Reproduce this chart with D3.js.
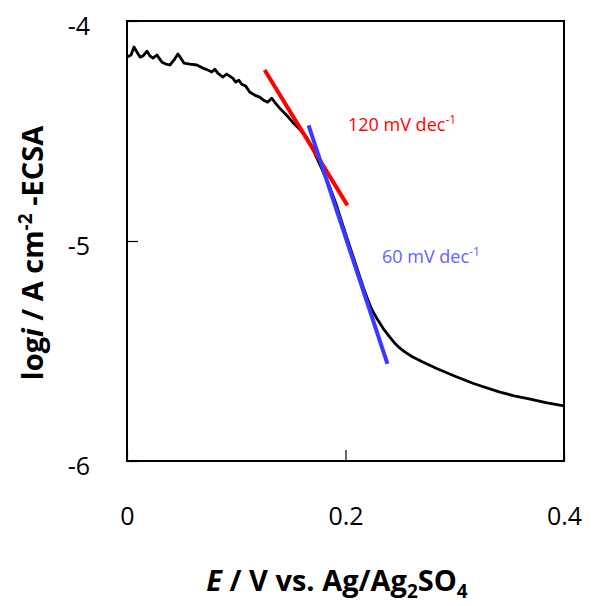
<!DOCTYPE html>
<html>
<head>
<meta charset="utf-8">
<script src="https://cdn.jsdelivr.net/npm/d3@7"></script>
<style>
  html, body { margin: 0; padding: 0; background: #fff; }
  svg { display: block; font-family: "Open Sans", "Noto Sans", sans-serif; }
</style>
</head>
<body>
<div id="chart"></div>
<script>
const WIDTH = 606;
const HEIGHT = 606;
const LEFT = 127, RIGHT = 564, TOP = 21, BOTTOM = 461;

// measured polarisation curve (E in V, log i)
const potentialE = [0.0000, 0.0037, 0.0064, 0.0091, 0.0119, 0.0146, 0.0183, 0.0210, 0.0237, 0.0274,
  0.0320, 0.0356, 0.0393, 0.0429, 0.0466, 0.0493, 0.0521, 0.0575, 0.0639, 0.0694,
  0.0740, 0.0776, 0.0804, 0.0831, 0.0877, 0.0913, 0.0941, 0.0968, 0.0995, 0.1023,
  0.1050, 0.1087, 0.1123, 0.1169, 0.1214, 0.1251, 0.1287, 0.1324, 0.1361, 0.1397,
  0.1461, 0.1516, 0.1580, 0.1644, 0.1689, 0.1735, 0.1790, 0.1854, 0.1918, 0.1973,
  0.2037, 0.2100, 0.2164, 0.2201, 0.2237, 0.2283, 0.2347, 0.2402, 0.2447, 0.2493,
  0.2539, 0.2612, 0.2703, 0.2840, 0.3014, 0.3178, 0.3406, 0.3543, 0.3680, 0.3845,
  0.4000];
const logCurrent = [-4.164, -4.155, -4.118, -4.141, -4.164, -4.159, -4.137, -4.159, -4.169, -4.155,
  -4.187, -4.196, -4.200, -4.178, -4.150, -4.169, -4.191, -4.196, -4.200, -4.214,
  -4.223, -4.232, -4.219, -4.237, -4.255, -4.241, -4.251, -4.260, -4.278, -4.269,
  -4.287, -4.296, -4.323, -4.337, -4.346, -4.360, -4.369, -4.351, -4.374, -4.396,
  -4.428, -4.460, -4.492, -4.528, -4.569, -4.620, -4.679, -4.752, -4.838, -4.925,
  -5.021, -5.116, -5.212, -5.262, -5.308, -5.349, -5.399, -5.435, -5.462, -5.485,
  -5.503, -5.526, -5.549, -5.581, -5.617, -5.649, -5.686, -5.704, -5.718, -5.736,
  -5.749];

// Tafel fit lines
const tafel120E = [0.126, 0.2018];
const tafel120LogI = [-4.223, -4.838];
const tafel60E = [0.1662, 0.2384];
const tafel60LogI = [-4.474, -5.558];

const xTicks = [0, 0.2, 0.4];
const xTickLabels = ["0", "0.2", "0.4"];
const yTicks = [-6, -5, -4];
const yTickLabels = ["-6", "-5", "-4"];

const svg = d3.select("#chart").append("svg")
  .attr("width", WIDTH)
  .attr("height", HEIGHT);

const x = d3.scaleLinear().domain([0, 0.4]).range([LEFT, RIGHT]);
const y = d3.scaleLinear().domain([-6, -4]).range([BOTTOM, TOP]);

// axes with inside ticks
const xAxis = d3.axisBottom(x)
  .tickValues(xTicks)
  .tickFormat((d, i) => xTickLabels[i])
  .tickSizeInner(-11)
  .tickSizeOuter(0)
  .tickPadding(46);
const yAxis = d3.axisLeft(y)
  .tickValues(yTicks)
  .tickFormat((d, i) => yTickLabels[i])
  .tickSizeInner(-11)
  .tickSizeOuter(0)
  .tickPadding(37);

const gx = svg.append("g")
  .attr("transform", `translate(0,${BOTTOM})`)
  .call(xAxis);
const gy = svg.append("g")
  .attr("transform", `translate(${LEFT},0)`)
  .call(yAxis);

[gx, gy].forEach(g => {
  g.select(".domain").remove();
  g.selectAll(".tick line").attr("stroke", "#000").attr("stroke-width", 1.2);
  g.selectAll(".tick text")
    .attr("fill", "#000")
    .style("font-size", "25px")
    .style("font-family", "'Open Sans', sans-serif");
});
gy.selectAll(".tick text").attr("dy", "0.55em");

// frame
svg.append("rect")
  .attr("x", LEFT)
  .attr("y", TOP)
  .attr("width", RIGHT - LEFT)
  .attr("height", BOTTOM - TOP)
  .attr("fill", "none")
  .attr("stroke", "#000")
  .attr("stroke-width", 2);

const line = d3.line()
  .x(d => x(d[0]))
  .y(d => y(d[1]));

svg.append("path")
  .datum(d3.zip(potentialE, logCurrent))
  .attr("d", line)
  .attr("fill", "none")
  .attr("stroke", "#000")
  .attr("stroke-width", 2.8)
  .attr("stroke-linejoin", "round");

svg.append("path")
  .datum(d3.zip(tafel120E, tafel120LogI))
  .attr("d", line)
  .attr("fill", "none")
  .attr("stroke", "#ff0000")
  .attr("stroke-width", 4);

svg.append("path")
  .datum(d3.zip(tafel60E, tafel60LogI))
  .attr("d", line)
  .attr("fill", "none")
  .attr("stroke", "#3a3aff")
  .attr("stroke-width", 4);

// slope labels
function slopeLabel(px, py, text, color) {
  const t = svg.append("text")
    .attr("x", px)
    .attr("y", py)
    .attr("fill", color)
    .style("font-size", "18px");
  t.append("tspan").text(text);
  t.append("tspan").attr("dy", -7).style("font-size", "12px").text("-1");
}
slopeLabel(348, 131, "120 mV dec", "#ff0000");
slopeLabel(382, 263, "60 mV dec", "#6262ff");

// x axis title
const xt = svg.append("text")
  .attr("x", 337)
  .attr("y", 591)
  .attr("text-anchor", "middle")
  .style("font-size", "29px")
  .style("font-weight", "bold");
xt.append("tspan").style("font-style", "italic").text("E");
xt.append("tspan").text(" / V vs. Ag/Ag");
xt.append("tspan").attr("dy", 7).style("font-size", "19px").text("2");
xt.append("tspan").attr("dy", -7).text("SO");
xt.append("tspan").attr("dy", 7).style("font-size", "19px").text("4");

// y axis title
const yt = svg.append("text")
  .attr("transform", "translate(43,253) rotate(-90)")
  .attr("text-anchor", "middle")
  .style("font-size", "29px")
  .style("font-weight", "bold");
yt.append("tspan").text("log");
yt.append("tspan").style("font-style", "italic").text("i");
yt.append("tspan").text(" / A cm");
yt.append("tspan").attr("dy", -11).style("font-size", "19px").text("-2");
yt.append("tspan").attr("dy", 11).text(" -ECSA");
</script>
</body>
</html>
